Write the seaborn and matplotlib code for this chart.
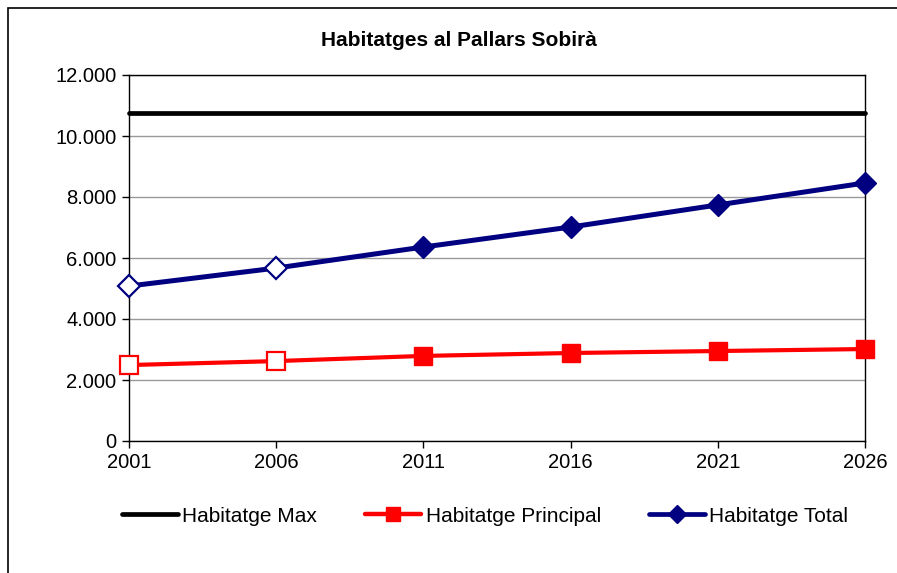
import numpy as np
import pandas as pd
import matplotlib
matplotlib.use("Agg")
import matplotlib.pyplot as plt
import seaborn as sns
from matplotlib.lines import Line2D
from matplotlib.patches import Rectangle
from matplotlib.ticker import FuncFormatter

years = ["2001", "2006", "2011", "2016", "2021", "2026"]
habitatge_max = [10750, 10750, 10750, 10750, 10750, 10750]
habitatge_principal = [2490, 2620, 2790, 2885, 2950, 3015]
habitatge_total = [5080, 5670, 6360, 7015, 7740, 8460]
hollow = [True, True, False, False, False, False]  # primers anys sense omplir

df = pd.DataFrame({
    "pos": np.arange(len(years)),
    "year": years,
    "max": habitatge_max,
    "principal": habitatge_principal,
    "total": habitatge_total,
    "hollow": hollow,
})

sns.set_style("white")
plt.rcParams["font.family"] = ["Liberation Sans", "DejaVu Sans"]
plt.rcParams["text.color"] = "black"
plt.rcParams["xtick.color"] = "black"
plt.rcParams["ytick.color"] = "black"

fig = plt.figure(figsize=(8.97, 5.73), dpi=100)
ax = fig.add_axes([129 / 897, 1 - 441 / 573, (865 - 129) / 897, (441 - 75) / 573])

red = "#ff0000"
navy = "#000080"

sns.lineplot(data=df, x="pos", y="max", color="black", lw=3.4, ax=ax, zorder=3, clip_on=False)
sns.lineplot(data=df, x="pos", y="principal", color=red, lw=3.0, ax=ax, zorder=3, clip_on=False)
sns.lineplot(data=df, x="pos", y="total", color=navy, lw=3.6, ax=ax, zorder=3, clip_on=False)

full = df[~df["hollow"]]
empty = df[df["hollow"]]
ax.plot(full["pos"], full["principal"], ls="", marker="s", ms=12.5, color=red, zorder=4,
        clip_on=False)
ax.plot(empty["pos"], empty["principal"], ls="", marker="s", ms=12.5, mfc="white",
        mec=red, mew=1.6, zorder=4, clip_on=False)
ax.plot(full["pos"], full["total"], ls="", marker="D", ms=11, color=navy, zorder=4,
        clip_on=False)
ax.plot(empty["pos"], empty["total"], ls="", marker="D", ms=11, mfc="white",
        mec=navy, mew=1.6, zorder=4, clip_on=False)

ax.set_xlim(0, len(years) - 1)
ax.set_ylim(0, 12000)
ax.set_xticks(df["pos"])
ax.set_xticklabels(years)
ax.set_yticks(np.arange(0, 12001, 2000))
ax.yaxis.set_major_formatter(FuncFormatter(lambda v, p: f"{int(v):,}".replace(",", ".")))
ax.set_xlabel("")
ax.set_ylabel("")
ax.grid(axis="y", color="#999999", lw=1)
ax.tick_params(axis="both", labelsize=14.5, length=5, width=1, color="black",
               direction="out", bottom=True, left=True, pad=4)
for s in ax.spines.values():
    s.set_color("black")
    s.set_linewidth(1)

fig.text(459 / 897, 1 - 41 / 573, "Habitatges al Pallars Sobirà", ha="center", va="center",
         fontsize=15, fontweight="bold")

handles = [
    Line2D([], [], color="black", lw=3.4),
    Line2D([], [], color=red, lw=3.2, marker="s", ms=10),
    Line2D([], [], color=navy, lw=3.4, marker="D", ms=9),
]
labels = ["Habitatge Max", "Habitatge Principal", "Habitatge Total"]
fig.legend(handles, labels, loc="center", bbox_to_anchor=(485 / 897, 1 - 516 / 573), ncol=3,
           frameon=False, fontsize=15, handlelength=2.7, handletextpad=0.2,
           columnspacing=2.3)

fig.patches.append(Rectangle((8 / 897, -0.1), 1.2, 1 - 8 / 573 + 0.1,
                             transform=fig.transFigure, fill=False, ec="black", lw=1.2))

fig.savefig("out.png", dpi=100)
